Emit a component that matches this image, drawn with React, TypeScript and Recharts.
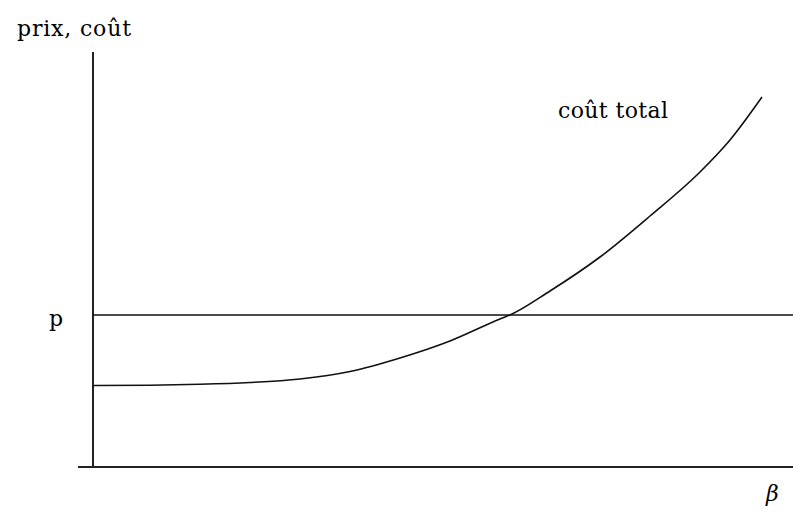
import React from "react";
import { LineChart, Line, XAxis, YAxis, ReferenceLine } from "recharts";

// beta positions (arbitrary units) and total cost values
const BETA = [0, 11.4, 21.4, 31.4, 41.4, 51.4, 61.4, 71.4, 81.4, 83.4, 91.4, 101.4, 111.4, 121.4, 127.4, 133.8];
const COST = [16.3, 16.36, 16.54, 16.9, 17.6, 19.1, 21.8, 25.2, 29.6, 30.4, 35.2, 42, 50.2, 59, 65.4, 74];
const P = 30.4;
const PRICE_X = [0, 140];
const Y_TICKS = [P];
const Y_TICK_LABELS = ["p"];
const Y_TITLE = "prix, coût";
const X_TITLE = "β";
const CURVE_LABEL = "coût total";

const costData = BETA.map((x, i) => ({ x, y: COST[i] }));
const priceData = PRICE_X.map((x) => ({ x, y: P }));

const FONT = "'DejaVu Serif', serif";

const renderPTick = (props: any) => {
  const { y, index } = props;
  return (
    <text key={`t-${index}`} x={49} y={y + 11} fontFamily={FONT} fontSize={22} fill="#000">
      {Y_TICK_LABELS[index] ?? "p"}
    </text>
  );
};

export default function App() {
  return (
    <div style={{ position: "absolute", left: 0, top: 0, width: 793, height: 514, background: "#fff" }}>
      <LineChart width={793} height={514} margin={{ top: 52, right: 0, bottom: 47, left: 0 }}>
        <XAxis
          type="number"
          dataKey="x"
          domain={[-3, 140]}
          ticks={[]}
          tick={false}
          tickLine={false}
          height={0}
          axisLine={false}
          allowDataOverflow
        />
        <YAxis
          type="number"
          dataKey="y"
          domain={[0, 83]}
          width={78}
          ticks={Y_TICKS}
          axisLine={false}
          tickLine={false}
          tick={renderPTick}
          allowDataOverflow
        />
        <ReferenceLine y={0} stroke="#222" strokeWidth={2} />
        <ReferenceLine x={0} stroke="#222" strokeWidth={2} />
        <Line
          data={priceData}
          dataKey="y"
          type="linear"
          stroke="#111"
          strokeWidth={1.6}
          dot={false}
          isAnimationActive={false}
        />
        <Line
          data={costData}
          dataKey="y"
          type="monotone"
          stroke="#111"
          strokeWidth={1.6}
          dot={false}
          isAnimationActive={false}
        />
      </LineChart>
      <svg
        width={793}
        height={514}
        style={{ position: "absolute", left: 0, top: 0, pointerEvents: "none" }}
      >
        <text x={17} y={36} fontFamily={FONT} fontSize={22} fill="#000" textLength={114} lengthAdjust="spacing">
          {Y_TITLE}
        </text>
        <text x={558} y={118} fontFamily={FONT} fontSize={22} fill="#000" textLength={110} lengthAdjust="spacing">
          {CURVE_LABEL}
        </text>
        <text x={766} y={501} fontFamily={FONT} fontSize={22} fontStyle="italic" fill="#000">
          {X_TITLE}
        </text>
      </svg>
    </div>
  );
}
